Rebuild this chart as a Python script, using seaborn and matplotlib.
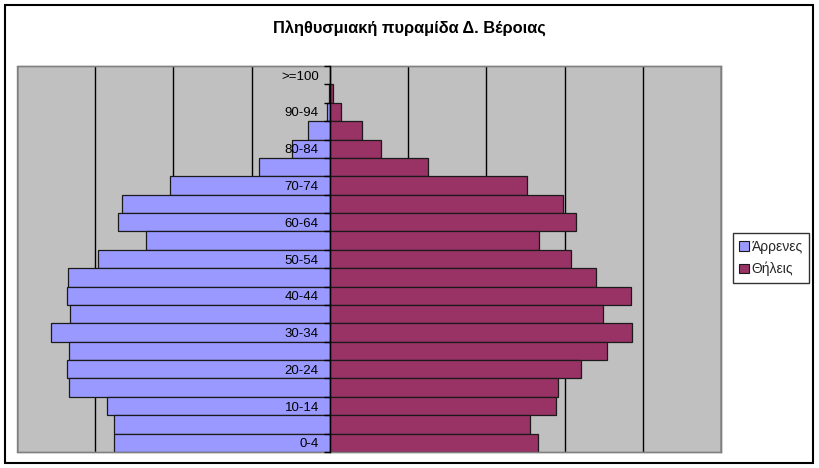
import matplotlib
matplotlib.use("Agg")
import matplotlib.pyplot as plt
import seaborn as sns
import pandas as pd
import numpy as np
from matplotlib.patches import Rectangle, Patch

# ---- data ----
age_groups = ["0-4", "5-9", "10-14", "15-19", "20-24", "25-29", "30-34", "35-39",
              "40-44", "45-49", "50-54", "55-59", "60-64", "65-69", "70-74",
              "75-79", "80-84", "85-89", "90-94", "95-99", ">=100"]
males = [1378, 1378, 1427, 1667, 1679, 1667, 1780, 1660, 1679, 1673, 1481,
         1177, 1353, 1331, 1021, 455, 241, 139, 21, 3, 1]
females = [1329, 1278, 1444, 1457, 1605, 1774, 1931, 1746, 1925, 1701, 1538,
           1335, 1573, 1489, 1258, 628, 329, 205, 68, 20, 3]
label_male = "Άρρενες"
label_female = "Θήλεις"
title = "Πληθυσμιακή πυραμίδα Δ. Βέροιας"
grid_values = [-2000, -1500, -1000, -500, 500, 1000, 1500, 2000, 2500]

df = pd.DataFrame({
    "age": age_groups * 2,
    "value": [-m for m in males] + list(females),
    "sex": [label_male] * len(age_groups) + [label_female] * len(age_groups),
})

sns.set_theme(style="white")
plt.rcParams["font.family"] = ["Liberation Sans", "DejaVu Sans"]
plt.rcParams["axes.axisbelow"] = False

fig = plt.figure(figsize=(8.19, 4.68), dpi=100)
ax = fig.add_axes([17 / 819, 1 - 452 / 468, (721 - 17) / 819, (452 - 66) / 468])

col_m = "#9999FF"
col_f = "#993366"
order = age_groups[::-1]
sns.barplot(data=df, x="value", y="age", hue="sex", order=order,
            hue_order=[label_male, label_female], palette=[col_m, col_f],
            dodge=False, width=1.0, orient="h", edgecolor="#1a1a1a",
            linewidth=0.9, legend=False, ax=ax, saturation=1)

ax.set_axisbelow(False)
ax.set_facecolor("#C0C0C0")
ax.set_xlim(-2000, 2500)
ax.set_ylim(len(order) - 0.5, -0.5)
ax.set_xticks([])
ax.grid(False)
for gv in grid_values:
    ax.axvline(gv, color="black", linewidth=1.0, zorder=0.5)
ax.set_xlabel("")
ax.set_ylabel("")

# y axis at zero
ax.spines["left"].set_position(("data", 0))
ax.spines["left"].set_color("black")
ax.spines["left"].set_linewidth(1.0)
ax.spines["left"].set_zorder(3)
for s in ["top", "right", "bottom"]:
    ax.spines[s].set_color("#808080")
    ax.spines[s].set_linewidth(1.0)
# left border of plot area
ax.add_patch(Rectangle((0, 0), 1, 1, transform=ax.transAxes, fill=False,
                       edgecolor="#808080", linewidth=1.0, zorder=0.6, clip_on=False))

yt = list(range(len(order)))
ax.set_yticks(yt)
ax.set_yticklabels([lab if (len(order) - 1 - i) % 2 == 0 else "" for i, lab in enumerate(order)],
                   fontsize=9.5, color="black")
ax.tick_params(axis="y", which="major", length=0, pad=8)
ax.set_yticks(np.arange(-0.5, len(order), 1.0), minor=True)
ax.tick_params(axis="y", which="minor", length=4, width=1.0, color="black", direction="out", left=True)

fig.text(409 / 819, 1 - 28 / 468, title, ha="center", va="center",
         fontsize=11.8, fontweight="bold", color="black")

handles = [Patch(facecolor=col_m, edgecolor="#1a1a1a", linewidth=0.8, label=label_male),
           Patch(facecolor=col_f, edgecolor="#1a1a1a", linewidth=0.8, label=label_female)]
leg = fig.legend(handles=handles, loc="center left", bbox_to_anchor=(733 / 819, 1 - 258 / 468),
                 frameon=True, fancybox=False, fontsize=10, handlelength=0.7,
                 handleheight=0.7, handletextpad=0.2, borderpad=0.45, labelspacing=0.6,
                 borderaxespad=0)
leg.get_frame().set_edgecolor("black")
leg.get_frame().set_linewidth(1.0)

fig.patches.append(Rectangle((5 / 819, 1 - 463 / 468), (813 - 5) / 819, (463 - 5) / 468,
                             transform=fig.transFigure, fill=False, edgecolor="black",
                             linewidth=1.5))

fig.savefig("out.png", dpi=100, facecolor="white")
